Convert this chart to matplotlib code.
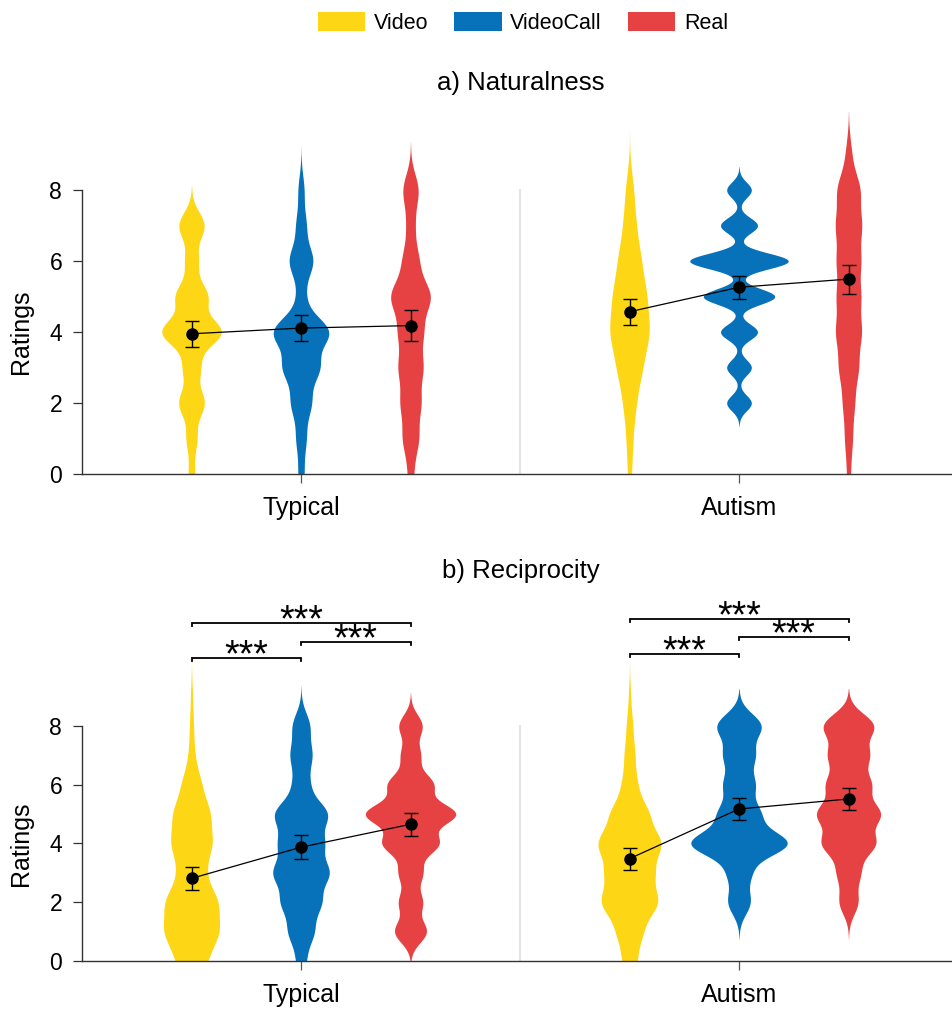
import numpy as np
import matplotlib.pyplot as plt
from matplotlib.patches import Patch
from matplotlib.transforms import blended_transform_factory

plt.rcParams['font.family'] = ['Liberation Sans', 'DejaVu Sans']

conditions = ['Video', 'VideoCall', 'Real']
colors = ['#FDD616', '#0772B9', '#E64244']
groups = ['Typical', 'Autism']
ratings = np.arange(10)  # rating levels 0..9

# how often each rating level was given (0..9), per condition
nat_typical_counts = [[3, 5, 12, 8, 28, 15, 6, 12, 0, 0],
                      [3, 5, 10, 18, 28, 4, 12, 5, 3, 0],
                      [3, 8, 10, 12, 12, 20, 8, 4, 8, 0]]
nat_autism_counts = [[2, 3, 6, 12, 19, 16, 11, 6, 4, 0],
                     [0, 0, 10, 10, 15, 29, 40, 15, 10, 0],
                     [2, 4, 6, 10, 13, 12, 12, 13, 12, 3]]
rec_typical_counts = [[16, 28, 27, 13, 21, 19, 10, 3, 2, 1],
                      [5, 13, 20, 28, 22, 27, 8, 11, 9, 0],
                      [0, 15, 11, 11, 26, 42, 21, 9, 11, 0]]
rec_autism_counts = [[7, 12, 27, 22, 30, 18, 7, 5, 3, 1],
                     [0, 0, 11, 11, 48, 20, 15, 15, 22, 0],
                     [0, 0, 10, 12, 28, 33, 23, 21, 27, 0]]

# kernel bandwidths
nat_typical_bw = [0.38, 0.42, 0.45]
nat_autism_bw = [0.55, 0.22, 0.47]
rec_typical_bw = [0.52, 0.45, 0.38]
rec_autism_bw = [0.48, 0.42, 0.42]

# means and standard errors
nat_typical_mean = [3.95, 4.11, 4.18]
nat_typical_err = [0.37, 0.36, 0.43]
nat_autism_mean = [4.57, 5.26, 5.49]
nat_autism_err = [0.36, 0.32, 0.41]
rec_typical_mean = [2.81, 3.87, 4.65]
rec_typical_err = [0.40, 0.40, 0.40]
rec_autism_mean = [3.48, 5.17, 5.51]
rec_autism_err = [0.38, 0.36, 0.36]

# significance brackets (reciprocity)
sig_pairs = [(0, 1), (1, 2), (0, 2)]
sig_labels = ['***', '***', '***']
sig_typical_y = [10.31, 10.86, 11.50]
sig_autism_y = [10.45, 11.03, 11.64]

group_x = [1, 2]
offsets = [-0.25, 0, 0.25]


def kde(counts, bw, y):
    counts = np.asarray(counts, float)
    p = counts / counts.sum()
    d = np.zeros_like(y)
    for k, pk in zip(ratings, p):
        if pk > 0:
            d += pk * np.exp(-0.5 * ((y - k) / bw) ** 2) / (bw * np.sqrt(2 * np.pi))
    return d


def draw_panel(ax, counts, bws, means, errs, scale, ymax):
    for g in range(2):
        xs = [group_x[g] + o for o in offsets]
        for c in range(3):
            cnt = np.asarray(counts[g][c])
            used = ratings[cnt > 0]
            y = np.linspace(used.min() - 3 * bws[g][c], used.max() + 3 * bws[g][c], 600)
            d = kde(cnt, bws[g][c], y) * scale
            ax.fill_betweenx(y, xs[c] - d, xs[c] + d, color=colors[c], lw=0, zorder=2)
        ax.plot(xs, means[g], color='black', lw=0.9, zorder=3)
        ax.errorbar(xs, means[g], yerr=errs[g], fmt='o', color='black', ms=8,
                    elinewidth=1.0, capsize=5, capthick=1.0, zorder=4)
    ax.plot([1.5, 1.5], [0, 8], color='#E3E3E3', lw=1.5, zorder=1)

    ax.set_xlim(0.5, 2.5)
    ax.set_ylim(0, ymax)
    ax.set_xticks(group_x)
    ax.set_xticklabels(groups)
    ax.set_yticks([0, 2, 4, 6, 8])
    for s in ['top', 'right']:
        ax.spines[s].set_visible(False)
    ax.spines['left'].set_bounds(0, 8)
    for s in ['left', 'bottom']:
        ax.spines[s].set_linewidth(1.0)
        ax.spines[s].set_color('#333333')
    ax.tick_params(axis='y', length=6.3, width=0.9, pad=8, labelsize=16.5, color='#333333')
    ax.tick_params(axis='x', length=6.5, width=0.9, pad=9, labelsize=18, color='#555555')
    ax.set_ylabel('Ratings', fontsize=18)
    ax.yaxis.set_label_coords(-0.056, 4, transform=blended_transform_factory(ax.transAxes, ax.transData))


fig = plt.figure(figsize=(9.52, 10.09), dpi=100)

ax_a = fig.add_axes([82 / 952, 535 / 1009, 876 / 952, 362.1 / 1009])
draw_panel(ax_a, [nat_typical_counts, nat_autism_counts], [nat_typical_bw, nat_autism_bw],
           [nat_typical_mean, nat_autism_mean], [nat_typical_err, nat_autism_err], 0.2, 10.2)

ax_b = fig.add_axes([82 / 952, 48 / 1009, 876 / 952, 364.6 / 1009])
draw_panel(ax_b, [rec_typical_counts, rec_autism_counts], [rec_typical_bw, rec_autism_bw],
           [rec_typical_mean, rec_autism_mean], [rec_typical_err, rec_autism_err], 0.33, 12.4)

# significance brackets
for g, levels in enumerate([sig_typical_y, sig_autism_y]):
    for (i, j), lab, h in zip(sig_pairs, sig_labels, levels):
        x1 = group_x[g] + offsets[i]
        x2 = group_x[g] + offsets[j]
        ax_b.plot([x1, x1, x2, x2], [h - 0.1, h, h, h - 0.1], color='black', lw=1.3,
                  solid_joinstyle='miter', zorder=3)
        ax_b.text((x1 + x2) / 2, h - 0.29, lab, ha='center', va='baseline', fontsize=27)

fig.text(521 / 952, 1 - 83 / 1009, 'a) Naturalness', ha='center', va='center', fontsize=18.5)
fig.text(521 / 952, 1 - 571 / 1009, 'b) Reciprocity', ha='center', va='center', fontsize=18.5)

handles = [Patch(facecolor=c, edgecolor='none') for c in colors]
fig.legend(handles, conditions, loc='center', bbox_to_anchor=(523 / 952, 1 - 23 / 1009),
           ncol=3, frameon=False, fontsize=15.5, handlelength=2.2, handleheight=1.0,
           handletextpad=0.4, columnspacing=1.2)

fig.savefig('out.png', dpi=100)
